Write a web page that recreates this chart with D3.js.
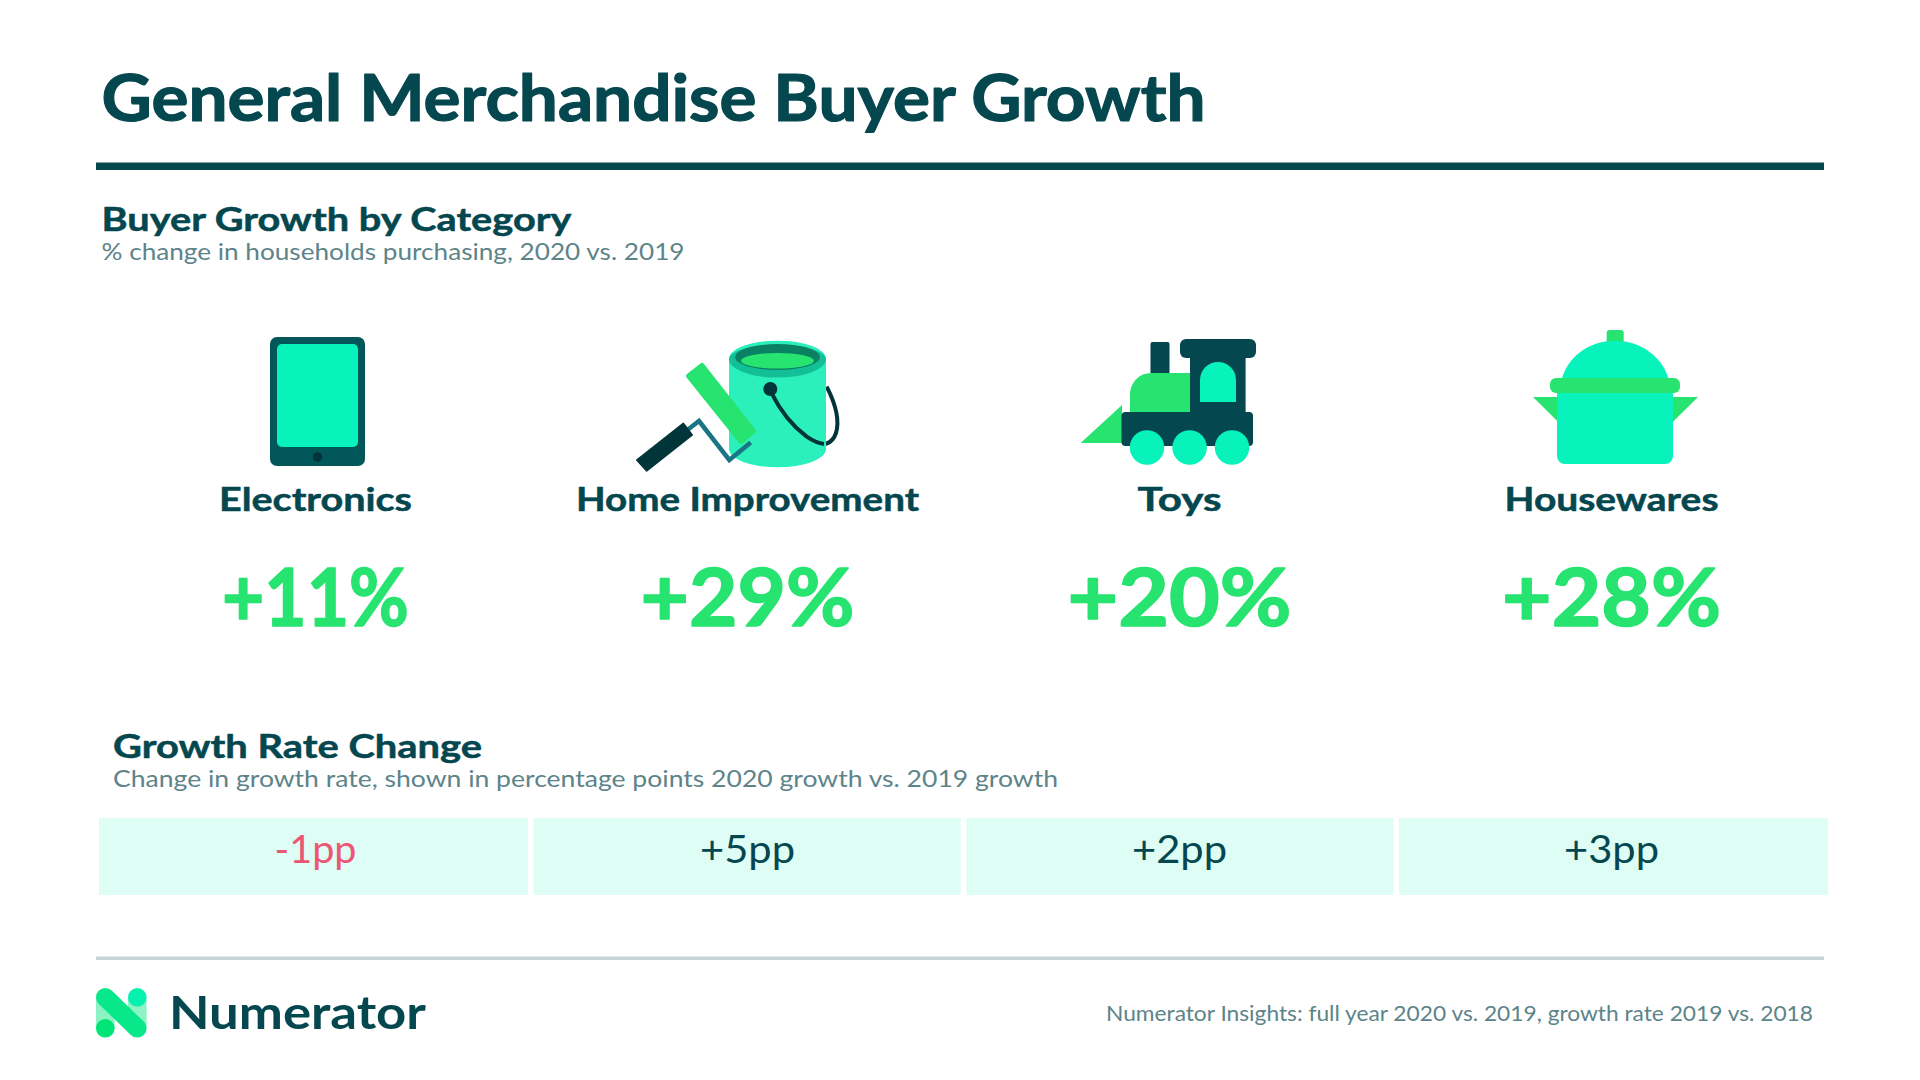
<!DOCTYPE html>
<html>
<head>
<meta charset="utf-8">
<title>General Merchandise Buyer Growth</title>
<script src="https://cdn.jsdelivr.net/npm/d3@7/dist/d3.min.js"></script>
<style>
html,body{margin:0;padding:0;background:#fff;overflow:hidden}
svg{display:block}
text{font-family:Lato,"Noto Sans",sans-serif}
</style>
</head>
<body>
<svg id="chart" width="1920" height="1080" viewBox="0 0 1920 1080"></svg>
<script>
const categories = ["Electronics", "Home Improvement", "Toys", "Housewares"];
const buyerGrowth = [11, 29, 20, 28];
const rateChange = [-1, 5, 2, 3];
const chartTitle = "General Merchandise Buyer Growth";
const growthTitle = "Buyer Growth by Category";
const growthSubtitle = "% change in households purchasing, 2020 vs. 2019";
const rateTitle = "Growth Rate Change";
const rateSubtitle = "Change in growth rate, shown in percentage points 2020 growth vs. 2019 growth";
const brandName = "Numerator";
const sourceNote = "Numerator Insights: full year 2020 vs. 2019, growth rate 2019 vs. 2018";

const INK = "#05474f", MUTED = "#5d8489", MINT = "#27e370", AQUA = "#08f2bb",
      DARK = "#01353a", NEG = "#ec5573", CELL = "#defdf5", RULE = "#c3d5d8", TEAL = "#02575a";

const svg = d3.select("#chart");
svg.append("rect").attr("width", 1920).attr("height", 1080).attr("fill", "#fff");

function label(x, y, str, o) {
  const fill = o.fill || INK;
  const t = svg.append("text").attr("x", x).attr("y", y).text(str)
    .attr("font-size", o.size).attr("font-weight", o.weight || 400)
    .attr("fill", fill).attr("text-anchor", o.anchor || "start");
  if (o.width) t.attr("textLength", o.width).attr("lengthAdjust", "spacingAndGlyphs");
  if (o.heavy) t.attr("stroke", fill).attr("stroke-width", o.heavy).attr("stroke-linejoin", "round");
  return t;
}

// headings
label(101.5, 121, chartTitle, {size: 64.5, weight: 700, width: 1104, heavy: 1.2});
svg.append("rect").attr("x", 96).attr("y", 162.5).attr("width", 1728).attr("height", 7.5).attr("fill", INK);
label(101.5, 230.5, growthTitle, {size: 33, weight: 700, width: 470, heavy: 0.5});
label(101.5, 260, growthSubtitle, {size: 23.5, fill: MUTED, width: 583});
label(113, 757.5, rateTitle, {size: 33, weight: 700, width: 369, heavy: 0.5});
label(113, 787, rateSubtitle, {size: 23.5, fill: MUTED, width: 945});

// scales
const centre = d3.scalePoint().domain(categories).range([315.5, 1611.5]);
const cell = d3.scaleBand().domain(categories).range([101, 1826]).paddingInner(0.01317).paddingOuter(0);
const signed = d3.format("+d");
const fmt = v => signed(v).replace("\u2212", "-");

const nameWidth = [193, 343, 84, 214];
const valueWidth = [187, 214, 224, 219];

categories.forEach((c, i) => {
  label(centre(c), 511, c, {size: 33, weight: 700, anchor: "middle", width: nameWidth[i], heavy: 0.5});
  label(centre(c), 626, fmt(buyerGrowth[i]) + "%", {size: 80, weight: 700, fill: MINT, anchor: "middle", width: valueWidth[i], heavy: 1.6});
});

svg.append("g").selectAll("rect").data(categories).join("rect")
  .attr("x", (d, i) => cell(d) - (i === 0 ? 2 : 0))
  .attr("y", 818).attr("height", 77)
  .attr("width", (d, i) => cell.bandwidth() + (i === 0 || i === 3 ? 2 : 0))
  .attr("fill", CELL);

categories.forEach((c, i) => {
  label(centre(c), 862.5, fmt(rateChange[i]) + "pp", {size: 38.5, fill: rateChange[i] < 0 ? NEG : INK, anchor: "middle", width: rateChange[i] < 0 ? 82 : 95});
});

// footer
svg.append("rect").attr("x", 96).attr("y", 956.5).attr("width", 1728).attr("height", 3.5).attr("fill", RULE);
label(169, 1029, brandName, {size: 45, weight: 700, width: 257});
label(1106, 1021, sourceNote, {size: 20.5, fill: MUTED, width: 707});

// logo
const logo = svg.append("g");
logo.append("rect").attr("x", 96).attr("y", 997).attr("width", 18.6).attr("height", 31.5).attr("fill", "#8ef3c4");
logo.append("rect").attr("x", 128).attr("y", 997).attr("width", 18.6).attr("height", 31.5).attr("fill", "#8ef3c4");
logo.append("circle").attr("cx", 137.3).attr("cy", 997.3).attr("r", 9.3).attr("fill", "#06f0b0");
logo.append("circle").attr("cx", 105.3).attr("cy", 1028.3).attr("r", 9.3).attr("fill", "#00e676");
logo.append("path").attr("d", "M105.3 997.3L137.3 1028.3").attr("stroke", "#08e88a").attr("stroke-width", 18.6).attr("stroke-linecap", "round").attr("fill", "none");

// tablet icon
const tab = svg.append("g");
tab.append("rect").attr("x", 270).attr("y", 337).attr("width", 95).attr("height", 129).attr("rx", 7).attr("fill", TEAL);
tab.append("rect").attr("x", 277).attr("y", 344).attr("width", 81).attr("height", 103).attr("rx", 5).attr("fill", AQUA);
tab.append("circle").attr("cx", 317.6).attr("cy", 457).attr("r", 4.8).attr("fill", DARK);

// paint can icon
const can = svg.append("g");
can.append("path").attr("d", "M826.7 386.7C835 403 840 420 836 433C832 445 822 446 815 442").attr("fill", "none").attr("stroke", DARK).attr("stroke-width", 4);
can.append("path").attr("d", "M729 359V449A48.5 18.3 0 0 0 826 449V359Z").attr("fill", "#2cf0bc");
can.append("ellipse").attr("cx", 777.5).attr("cy", 359.3).attr("rx", 48.5).attr("ry", 18.3).attr("fill", "#12bf97");
can.append("path").attr("d", "M729 359A48.5 18.3 0 0 1 826 359A48.5 14 0 0 0 729 359Z").attr("fill", "#2cf0bc");
can.append("ellipse").attr("cx", 777.5).attr("cy", 357).attr("rx", 42.5).attr("ry", 13).attr("fill", "#0a8163");
can.append("ellipse").attr("cx", 777.5).attr("cy", 360.8).attr("rx", 36.5).attr("ry", 7.8).attr("fill", MINT);
can.append("path").attr("d", "M771.7 393.3C778 406 790 424 806.7 436.7C813 441 819 443.5 824 444").attr("fill", "none").attr("stroke", DARK).attr("stroke-width", 4);
can.append("circle").attr("cx", 770.3).attr("cy", 389).attr("r", 7).attr("fill", DARK);
can.append("path").attr("d", "M750.7 442.5L729.3 460L699 421L688 429.5").attr("fill", "none").attr("stroke", "#1b7585").attr("stroke-width", 4.5);
can.append("path").attr("d", "M683.3 423.3L692.3 435L646.7 471L636.7 460Z").attr("fill", DARK).attr("stroke", DARK).attr("stroke-width", 1.5).attr("stroke-linejoin", "round");
can.append("path").attr("d", "M702 365.5L688.5 376L741 441.5L753.5 431Z").attr("fill", MINT).attr("stroke", MINT).attr("stroke-width", 5).attr("stroke-linejoin", "round");

// train icon
const tr = svg.append("g");
tr.append("rect").attr("x", 1150.5).attr("y", 342).attr("width", 19).attr("height", 34).attr("rx", 2).attr("fill", INK);
tr.append("path").attr("d", "M1122 405L1080.6 443H1122Z").attr("fill", MINT);
tr.append("path").attr("d", "M1130 412V394A21 21 0 0 1 1151 373H1190V412Z").attr("fill", MINT);
tr.append("rect").attr("x", 1180).attr("y", 339).attr("width", 76).attr("height", 19).attr("rx", 6).attr("fill", INK);
tr.append("rect").attr("x", 1190).attr("y", 350).attr("width", 55.6).attr("height", 70).attr("fill", INK);
tr.append("path").attr("d", "M1200 402V380A18 18 0 0 1 1236 380V402Z").attr("fill", AQUA);
tr.append("rect").attr("x", 1121.5).attr("y", 412).attr("width", 131.5).attr("height", 34).attr("rx", 4).attr("fill", INK);
[1147, 1189.6, 1232].forEach(cx => tr.append("circle").attr("cx", cx).attr("cy", 447.5).attr("r", 17.3).attr("fill", AQUA));

// pot icon
const pot = svg.append("g");
pot.append("rect").attr("x", 1606.7).attr("y", 330).attr("width", 17).attr("height", 16).attr("rx", 3).attr("fill", MINT);
pot.append("path").attr("d", "M1533 397H1558V421.7Z").attr("fill", MINT);
pot.append("path").attr("d", "M1698 397H1673V421.7Z").attr("fill", MINT);
pot.append("path").attr("d", "M1561 382C1566 358 1588 340.7 1615 340.7C1642 340.7 1664 358 1669.4 382Z").attr("fill", AQUA);
pot.append("path").attr("d", "M1557 390H1673V456A8 8 0 0 1 1665 464H1565A8 8 0 0 1 1557 456Z").attr("fill", AQUA);
pot.append("rect").attr("x", 1550).attr("y", 378).attr("width", 130).attr("height", 15).attr("rx", 6).attr("fill", MINT);
</script>
</body>
</html>
